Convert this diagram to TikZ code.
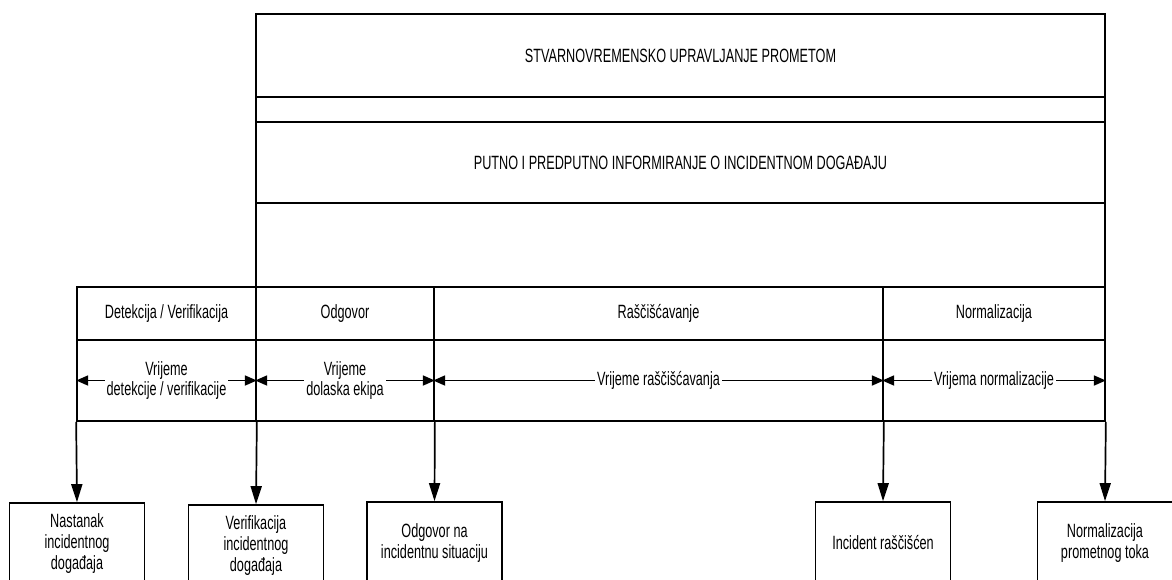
\documentclass[tikz,border=0pt]{standalone}
\usepackage{fontspec}
\setmainfont{Liberation Sans}[FakeStretch=0.66]
\usetikzlibrary{arrows.meta,positioning}

\begin{document}
\begin{tikzpicture}[x=0.5pt,y=-0.5pt,line width=0.85pt,font=\fontsize{9.6}{10.5}\selectfont,
  band/.style n args={2}{draw,rectangle,minimum width=#1*0.5pt,minimum height=#2*0.5pt,inner sep=0pt},
  span/.style={{Triangle[length=6pt,width=5pt]}-{Triangle[length=6pt,width=5pt]}},
  spanlbl/.style={fill=white,align=center,inner sep=1pt,font=\fontsize{9.6}{9.6}\selectfont},
  drop/.style={-{Triangle[length=9pt,width=5.5pt]}},
  outcome/.style={draw,rectangle,minimum width=67.5pt,minimum height=41pt,align=center,inner sep=0pt}]
\useasboundingbox (0,0) rectangle (1172,579);
\clip (0,0) rectangle (1172,579);
% upper bands
\node[band={849}{83}] (upr) at (680.5,55.5) {STVARNOVREMENSKO UPRAVLJANJE PROMETOM};
\node[band={849}{25}] (gap) at (680.5,109.5) {};
\node[band={849}{81}] (info) at (680.5,162.5) {PUTNO I PREDPUTNO INFORMIRANJE O INCIDENTNOM DOGAĐAJU};
\node[band={849}{84}] (free) at (680.5,245) {};
% phases
\node[band={179}{53}] (det) at (166.5,313.5) {Detekcija / Verifikacija};
\node[band={178}{53}] (odg) at (345,313.5) {Odgovor};
\node[band={449}{53}] (ras) at (658.5,313.5) {Raščišćavanje};
\node[band={222}{53}] (nor) at (994,313.5) {Normalizacija};
% durations
\node[band={179}{81}] (detT) at (166.5,380.5) {};
\node[band={178}{81}] (odgT) at (345,380.5) {};
\node[band={449}{81}] (rasT) at (658.5,380.5) {};
\node[band={222}{81}] (norT) at (994,380.5) {};
\foreach \c in {detT,odgT,rasT,norT} {
   \draw[span] (\c.west) -- (\c.east);
}
\node[spanlbl] (detL) at (detT) {Vrijeme\\detekcije / verifikacije};
\node[spanlbl] (odgL) at (odgT) {Vrijeme\\dolaska ekipa};
\node[spanlbl] (rasL) at (rasT) {Vrijeme raščišćavanja};
\node[spanlbl] (norL) at (norT) {Vrijema normalizacije};
% milestones
\node[outcome] (nast) at (77,544) {Nastanak\\incidentnog\\događaja};
\node[outcome] (verif) at (256,546) {Verifikacija\\incidentnog\\događaja};
\node[outcome] (odgS) at (434.5,543) {Odgovor na\\incidentnu situaciju};
\node[outcome] (incS) at (883,543) {Incident raščišćen};
\node[outcome] (normS) at (1105,543) {Normalizacija\\prometnog toka};
\foreach \a/\b in {detT.south west/nast,detT.south east/verif,odgT.south east/odgS,rasT.south east/incS,norT.south east/normS} {
   \draw[drop] (\a) -- (\b.north);
}
\end{tikzpicture}
\end{document}
